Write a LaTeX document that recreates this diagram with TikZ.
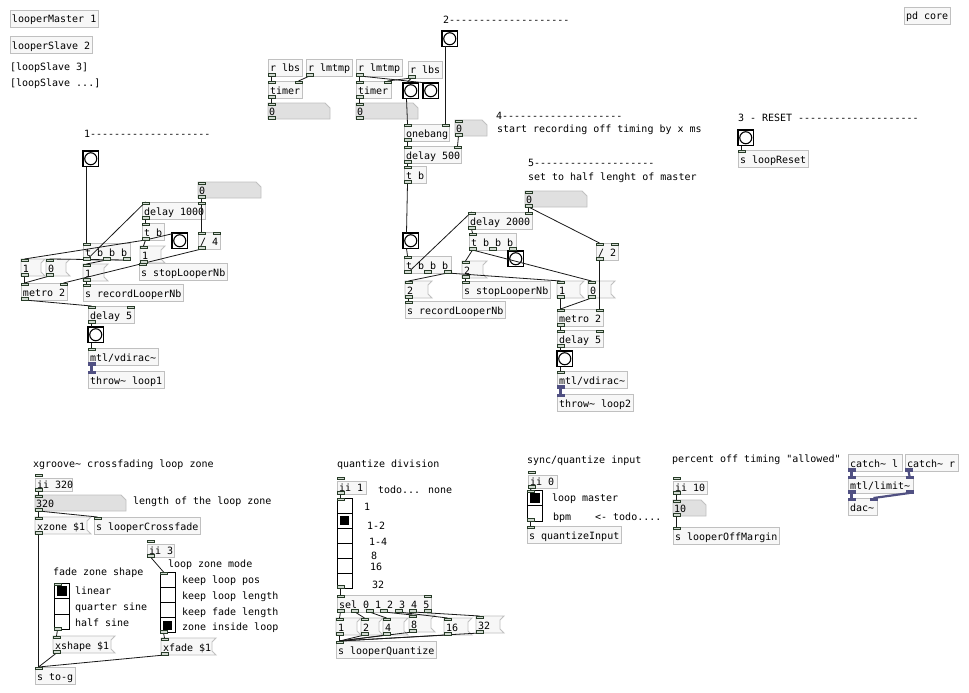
\documentclass[tikz,border=0pt]{standalone}
\usepackage{fontspec}
\newfontfamily\pdfont{DejaVu Sans Mono}
\usetikzlibrary{calc}
\pgfdeclarelayer{bg}\pgfdeclarelayer{fg}\pgfsetlayers{bg,main,fg}
\definecolor{boxborder}{RGB}{192,192,192}
\definecolor{boxfill}{RGB}{247,247,247}
\definecolor{atomfill}{RGB}{224,224,224}
\definecolor{ioline}{RGB}{40,60,40}
\definecolor{iofill}{RGB}{210,218,210}
\definecolor{sigcol}{RGB}{80,80,130}
\newcommand\pdtilde{\char126\relax}
\tikzset{
 pdtext/.style={font=\pdfont\fontsize{10}{12}\selectfont, inner sep=0pt, outer sep=0pt, text=black},
 boxline/.style={draw=boxborder, line width=0.9pt},
 ctlio/.style={draw=ioline, fill=iofill, line width=0.6pt},
 sigio/.style={fill=sigcol, draw=sigcol, line width=0.5pt},
 ctlwire/.style={draw=black!90, line width=0.8pt},
 sigwire/.style={draw=sigcol, line width=2.2pt},
}
% iolets: name x y w n style i/o h
\newcommand\pdio[8]{%
 \ifnum#5>0
 \begin{pgfonlayer}{fg}
 \foreach \k in {1,...,#5}{%
   \ifnum#5=1 \def\xk{#2}\else\pgfmathsetmacro\xk{#2+(#4-7)*(\k-1)/(#5-1)}\fi
   \if#7i
     \draw[#6io] (\xk,#3) rectangle (\xk+7,#3+2.5);
     \coordinate (#1-i\k) at (\xk+3.5,#3);
   \else
     \draw[#6io] (\xk,#3+#8-2.5) rectangle (\xk+7,#3+#8);
     \coordinate (#1-o\k) at (\xk+3.5,#3+#8);
   \fi
 }%
 \end{pgfonlayer}
 \fi}
\NewDocumentCommand\pdobj{m m m m m m m O{ctl} O{ctl}}{%
 \begin{pgfonlayer}{bg}
 \node[boxline, fill=boxfill, minimum width=#4pt, minimum height=17pt, inner sep=0pt, outer sep=0pt, anchor=north west] (#1) at (#2,#3) {};
 \end{pgfonlayer}
 \node[pdtext, anchor=base west] (#1-t) at (#2+2,#3+13) {#5};
 \pdio{#1}{#2}{#3}{#4}{#6}{#8}{i}{17}%
 \pdio{#1}{#2}{#3}{#4}{#7}{#9}{o}{17}}
\newcommand\pdgop[5]{%
 \begin{pgfonlayer}{bg}
 \node[boxline, fill=boxfill, minimum width=#4pt, minimum height=13pt, inner sep=0pt, outer sep=0pt, anchor=north west] (#1) at (#2,#3+4) {};
 \end{pgfonlayer}
 \node[pdtext, anchor=base west] (#1-t) at (#2+2,#3+14) {#5};
 \pdio{#1}{#2}{#3}{#4}{1}{ctl}{i}{17}%
 \pdio{#1}{#2}{#3}{#4}{1}{ctl}{o}{17}}
\newcommand\pdmsg[5]{%
 \begin{pgfonlayer}{bg}
 \path[boxline, fill=boxfill] (#2,#3) -- (#2+#4,#3) -- (#2+#4-4,#3+4) -- (#2+#4-4,#3+13) -- (#2+#4,#3+17) -- (#2,#3+17) -- cycle;
 \end{pgfonlayer}
 \node[inner sep=0pt, outer sep=0pt, minimum width=#4pt, minimum height=17pt, anchor=north west] (#1) at (#2,#3) {};
 \node[pdtext, anchor=base west] (#1-t) at (#2+2,#3+13) {#5};
 \pdio{#1}{#2}{#3}{#4}{1}{ctl}{i}{17}%
 \pdio{#1}{#2}{#3}{#4}{1}{ctl}{o}{17}}
\newcommand\pdatom[5]{%
 \begin{pgfonlayer}{bg}
 \path[boxline, fill=atomfill] (#2,#3) -- (#2+#4-5,#3) -- (#2+#4,#3+5) -- (#2+#4,#3+16) -- (#2,#3+16) -- cycle;
 \end{pgfonlayer}
 \node[inner sep=0pt, outer sep=0pt, minimum width=#4pt, minimum height=16pt, anchor=north west] (#1) at (#2,#3) {};
 \node[pdtext, anchor=base west] (#1-t) at (#2+1,#3+12.5) {#5};
 \pdio{#1}{#2}{#3}{#4}{1}{ctl}{i}{16}%
 \pdio{#1}{#2}{#3}{#4}{1}{ctl}{o}{16}}
\newcommand\pdbng[3]{%
 \begin{pgfonlayer}{bg}
 \node[draw=black, line width=1.4pt, fill=white, minimum size=15.5pt, inner sep=0pt, outer sep=0pt, anchor=north west] (#1) at (#2,#3) {};
 \draw[line width=1.1pt] (#1.center) circle[radius=6pt];
 \end{pgfonlayer}
 \coordinate (#1-i1) at (#2+3.5,#3);
 \coordinate (#1-o1) at (#2+3.5,#3+15.5);}
\newcommand\pdvradio[6]{%
 \pgfmathsetmacro\vrh{#4*#5}%
 \pgfmathtruncatemacro\vrn{#4-1}%
 \begin{pgfonlayer}{bg}
 \node[draw=black, line width=0.8pt, fill=white, minimum width=#5pt, minimum height=\vrh pt, inner sep=0pt, outer sep=0pt, anchor=north west] (#1) at (#2,#3) {};
 \foreach \k in {1,...,\vrn}{\draw[line width=0.6pt] (#2,#3+\k*#5) -- (#2+#5,#3+\k*#5);}
 \fill[black] (#2+3,#3+#6*#5-#5+3) rectangle (#2+#5-3,#3+#6*#5-3);
 \end{pgfonlayer}
 \pdio{#1}{#2}{#3}{#5}{1}{ctl}{i}{\vrh}%
 \pdio{#1}{#2}{#3}{#5}{1}{ctl}{o}{\vrh}}
\newcommand\pdcom[4]{\node[pdtext, anchor=base west] (#1) at (#2,#3+3.5) {#4};}

\begin{document}
\begin{tikzpicture}[x=1pt,y=-1pt]
\begin{pgfonlayer}{bg}
\fill[white] (0,0) rectangle (969,693);
\end{pgfonlayer}
\useasboundingbox (0,0) rectangle (969,693);

% top left
\pdobj{lm}{10}{10}{88}{looperMaster 1}{0}{0}
\pdobj{ls}{10}{36}{82}{looperSlave 2}{0}{0}
\pdcom{c1}{10}{67}{[loopSlave 3]}
\pdcom{c2}{10}{83}{[loopSlave ...]}
\pdobj{pdc}{904}{7}{46}{pd core}{0}{0}

% timers
\pdobj{rlbsA}{268}{59}{34}{r lbs}{0}{1}
\pdobj{rlmA}{306}{59}{46}{r lmtmp}{0}{1}
\pdobj{timA}{268}{81}{34}{timer}{2}{1}
\pdatom{atA}{268}{103}{62}{0}
\pdobj{rlmB}{356}{59}{46}{r lmtmp}{0}{1}
\pdobj{rlbsB}{408}{61}{34}{r lbs}{0}{1}
\pdobj{timB}{356}{81}{35}{timer}{2}{1}
\pdatom{atB}{356}{103}{62}{0}
\pdbng{bA}{403}{83}
\pdbng{bB}{423}{83}

% section 2
\pdcom{c3}{443}{20}{2--------------------}
\pdbng{bC}{442}{31}
\pdobj{ob}{404}{124}{45}{onebang}{2}{1}
\pdatom{atC}{455}{120}{32}{0}
\pdobj{d500}{404}{146}{57}{delay 500}{2}{1}
\pdobj{tbB}{404}{166}{22}{t b}{1}{1}
\pdcom{c4}{496}{116}{4--------------------}
\pdcom{c5}{497}{129}{start recording off timing by x ms}
\pdcom{c6}{528}{163}{5--------------------}
\pdcom{c7}{528}{177}{set to half lenght of master}
\pdatom{atD}{525}{191}{62}{0}
\pdobj{d2000}{468}{212}{64}{delay 2000}{2}{1}
\pdbng{bD}{403}{233}
\pdobj{tLB}{404}{256}{47}{t b b b}{1}{3}
\pdobj{tRB}{469}{233}{47}{t b b b}{1}{3}
\pdbng{bE}{508}{251}
\pdmsg{m2a}{462}{261}{25}{2}
\pdobj{ssB}{462}{281}{88}{s stopLooperNb}{1}{0}
\pdmsg{m2b}{405}{281}{27}{2}
\pdobj{srB}{405}{301}{100}{s recordLooperNb}{1}{0}
\pdmsg{m1B}{557}{281}{27}{1}
\pdmsg{m0B}{588}{281}{27}{0}
\pdobj{dv2}{596}{243}{22}{/ 2}{2}{1}
\pdobj{mtB}{557}{309}{46}{metro 2}{2}{1}
\pdobj{d5B}{557}{330}{46}{delay 5}{2}{1}
\pdbng{bF}{557}{351}
\pdobj{vdB}{557}{371}{70}{mtl/vdirac\pdtilde}{1}{1}[ctl][sig]
\pdobj{thB}{557}{394}{76}{throw\pdtilde{} loop2}{1}{0}[sig]

% section 1
\pdcom{c8}{84}{134}{1--------------------}
\pdbng{bG}{83}{151}
\pdobj{tLA}{83}{243}{47}{t b b b}{1}{3}
\pdobj{d1000}{142}{202}{63}{delay 1000}{2}{1}
\pdatom{atE}{198}{182}{63}{0}
\pdobj{tbA}{142}{223}{22}{t b}{1}{1}
\pdbng{bH}{172}{233}
\pdobj{dv4}{198}{232}{22}{/ 4}{2}{1}
\pdmsg{m1s}{140}{246}{25}{1}
\pdobj{ssA}{139}{263}{88}{s stopLooperNb}{1}{0}
\pdmsg{m1L}{21}{259}{24}{1}
\pdmsg{m0L}{46}{259}{24}{0}
\pdmsg{m1r}{83}{264}{25}{1}
\pdobj{srA}{83}{284}{100}{s recordLooperNb}{1}{0}
\pdobj{mtA}{21}{283}{46}{metro 2}{2}{1}
\pdobj{d5A}{88}{306}{46}{delay 5}{2}{1}
\pdbng{bI}{88}{327}
\pdobj{vdA}{88}{348}{70}{mtl/vdirac\pdtilde}{1}{1}[ctl][sig]
\pdobj{thA}{88}{371}{76}{throw\pdtilde{} loop1}{1}{0}[sig]

% reset
\pdcom{c9}{738}{118}{3 - RESET --------------------}
\pdbng{bJ}{738}{130}
\pdobj{srst}{738}{150}{70}{s loopReset}{1}{0}

% crossfade zone
\pdcom{c10}{33}{464}{xgroove\pdtilde{} crossfading loop zone}
\pdgop{ii320}{35}{474}{37}{ii 320}
\pdatom{at320}{35}{495}{91}{320}
\pdcom{c11}{133}{501}{length of the loop zone}
\pdmsg{xz}{35}{517}{56}{xzone \$1}
\pdobj{slc}{94}{517}{106}{s looperCrossfade}{1}{0}
\pdgop{ii3}{147}{540}{27}{ii 3}
\pdcom{c12}{168}{564}{loop zone mode}
\pdcom{c13}{53}{572}{fade zone shape}
\pdvradio{vr3}{54}{583}{3}{15.6}{1}
\pdcom{l1}{75}{591}{linear}
\pdcom{l2}{75}{607}{quarter sine}
\pdcom{l3}{75}{623}{half sine}
\pdvradio{vr4}{160}{572}{4}{15.2}{4}
\pdcom{l4}{182}{580}{keep loop pos}
\pdcom{l5}{182}{596}{keep loop length}
\pdcom{l6}{182}{612}{keep fade length}
\pdcom{l7}{182}{627}{zone inside loop}
\pdmsg{xs}{53}{636}{62}{xshape \$1}
\pdmsg{xf}{161}{638}{55}{xfade \$1}
\pdobj{stg}{35}{667}{40}{s to-g}{1}{0}

% quantize
\pdcom{c14}{337}{464}{quantize division}
\pdgop{ii1}{337}{477}{29}{ii 1}
\pdcom{c15}{378}{490}{todo... none}
\pdvradio{vr6}{337}{498}{6}{15}{2}
\pdcom{q1l}{364}{507}{1}
\pdcom{q2l}{367}{526}{1-2}
\pdcom{q3l}{369}{542}{1-4}
\pdcom{q4l}{371}{556}{8}
\pdcom{q5l}{370}{567}{16}
\pdcom{q6l}{372}{585}{32}
\pdobj{sel}{337}{595}{94}{sel 0 1 2 3 4 5}{2}{7}
\pdmsg{q1}{336}{618}{25}{1}
\pdmsg{q2}{361}{618}{22}{2}
\pdmsg{q3}{383}{618}{25}{4}
\pdmsg{q4}{409}{615}{26}{8}
\pdmsg{q5}{444}{618}{28}{16}
\pdmsg{q6}{476}{616}{28}{32}
\pdobj{sq}{336}{641}{100}{s looperQuantize}{1}{0}

% sync
\pdcom{c16}{527}{460}{sync/quantize input}
\pdgop{ii0}{528}{471}{29}{ii 0}
\pdvradio{vr2}{527}{490}{2}{15.5}{1}
\pdcom{c17}{552}{498}{loop master}
\pdcom{c18}{553}{517}{bpm\ \ \ \ <- todo....}
\pdobj{sqi}{527}{526}{94}{s quantizeInput}{1}{0}
\pdcom{c19}{672}{459}{percent off timing "allowed"}
\pdgop{ii10}{673}{477}{34}{ii 10}
\pdatom{at10}{673}{500}{33}{10}
\pdobj{som}{673}{527}{106}{s looperOffMargin}{1}{0}
\pdobj{cl}{848}{454}{54}{catch\pdtilde{} l}{0}{1}[ctl][sig]
\pdobj{cr}{905}{454}{53}{catch\pdtilde{} r}{0}{1}[ctl][sig]
\pdobj{lim}{848}{476}{65}{mtl/limit\pdtilde}{2}{2}[sig][sig]
\pdobj{dac}{848}{498}{29}{dac\pdtilde}{2}{0}[sig]

% ---------- connections ----------
\draw[ctlwire] (rlbsA-o1) -- (timA-i1);
\draw[ctlwire] (rlmA-o1) -- (timA-i2);
\draw[ctlwire] (timA-o1) -- (atA-i1);
\draw[ctlwire] (rlmB-o1) -- (timB-i1);
\draw[ctlwire] (rlmB-o1) -- (bB-i1);
\draw[ctlwire] (rlbsB-o1) -- (timB-i2);
\draw[ctlwire] (rlbsB-o1) -- (bA-i1);
\draw[ctlwire] (timB-o1) -- (atB-i1);

\draw[ctlwire] (bA-o1) -- (ob-i1);
\draw[ctlwire] (bC-o1) -- (ob-i2);
\draw[ctlwire] (ob-o1) -- (d500-i1);
\draw[ctlwire] (atC-o1) -- (d500-i2);
\draw[ctlwire] (d500-o1) -- (tbB-i1);
\draw[ctlwire] (tbB-o1) -- (bD-i1);
\draw[ctlwire] (bD-o1) -- (tLB-i1);
\draw[ctlwire] (tLB-o1) -- (d2000-i1);
\draw[ctlwire] (tLB-o3) -- (m2b-i1);
\draw[ctlwire] (tLB-o3) -- (m1B-i1);
\draw[ctlwire] (m2b-o1) -- (srB-i1);
\draw[ctlwire] (d2000-o1) -- (tRB-i1);
\draw[ctlwire] (atD-o1) -- (d2000-i2);
\draw[ctlwire] (atD-o1) -- (dv2-i1);
\draw[ctlwire] (tRB-o1) -- (m2a-i1);
\draw[ctlwire] (tRB-o1) -- (m0B-i1);
\draw[ctlwire] (tRB-o3) -- (bE-i1);
\draw[ctlwire] (m2a-o1) -- (ssB-i1);
\draw[ctlwire] (dv2-o1) -- (mtB-i2);
\draw[ctlwire] (m1B-o1) -- (mtB-i1);
\draw[ctlwire] (m0B-o1) -- (mtB-i1);
\draw[ctlwire] (mtB-o1) -- (d5B-i1);
\draw[ctlwire] (d5B-o1) -- (bF-i1);
\draw[ctlwire] (bF-o1) -- (vdB-i1);
\draw[sigwire] (vdB-o1) -- (thB-i1);

\draw[ctlwire] (bG-o1) -- (tLA-i1);
\draw[ctlwire] (tLA-o1) -- (d1000-i1);
\draw[ctlwire] (tLA-o3) -- (m0L-i1);
\draw[ctlwire] (tLA-o2) -- (m1r-i1);
\draw[ctlwire] (d1000-o1) -- (tbA-i1);
\draw[ctlwire] (atE-o1) -- (d1000-i2);
\draw[ctlwire] (atE-o1) -- (dv4-i1);
\draw[ctlwire] (tbA-o1) -- (bH-i1);
\draw[ctlwire] (tbA-o1) -- (m1L-i1);
\draw[ctlwire] (tbA-o1) -- (m1s-i1);
\draw[ctlwire] (dv4-o1) -- (mtA-i2);
\draw[ctlwire] (m1L-o1) -- (mtA-i1);
\draw[ctlwire] (m0L-o1) -- (mtA-i1);
\draw[ctlwire] (m1r-o1) -- (srA-i1);
\draw[ctlwire] (m1s-o1) -- (ssA-i1);
\draw[ctlwire] (mtA-o1) -- (d5A-i1);
\draw[ctlwire] (d5A-o1) -- (bI-i1);
\draw[ctlwire] (bI-o1) -- (vdA-i1);
\draw[sigwire] (vdA-o1) -- (thA-i1);

\draw[ctlwire] (bJ-o1) -- (srst-i1);

\draw[ctlwire] (ii320-o1) -- (at320-i1);
\draw[ctlwire] (at320-o1) -- (xz-i1);
\draw[ctlwire] (at320-o1) -- (slc-i1);
\draw[ctlwire] (xz-o1) -- (stg-i1);
\draw[ctlwire] (ii3-o1) -- (vr4-i1);
\draw[ctlwire] (vr3-o1) -- (xs-i1);
\draw[ctlwire] (vr4-o1) -- (xf-i1);
\draw[ctlwire] (xs-o1) -- (stg-i1);
\draw[ctlwire] (xf-o1) -- (stg-i1);

\draw[ctlwire] (ii1-o1) -- (vr6-i1);
\draw[ctlwire] (vr6-o1) -- (sel-i1);
\foreach \q in {1,...,6}{
  \draw[ctlwire] (sel-o\q) -- (q\q-i1);
  \draw[ctlwire] (q\q-o1) -- (sq-i1);
}

\draw[ctlwire] (ii0-o1) -- (vr2-i1);
\draw[ctlwire] (vr2-o1) -- (sqi-i1);
\draw[ctlwire] (ii10-o1) -- (at10-i1);
\draw[ctlwire] (at10-o1) -- (som-i1);
\draw[sigwire] (cl-o1) -- (lim-i1);
\draw[sigwire] (cr-o1) -- (lim-i2);
\draw[sigwire] (lim-o1) -- (dac-i1);
\draw[sigwire] (lim-o2) -- (dac-i2);
\end{tikzpicture}
\end{document}
